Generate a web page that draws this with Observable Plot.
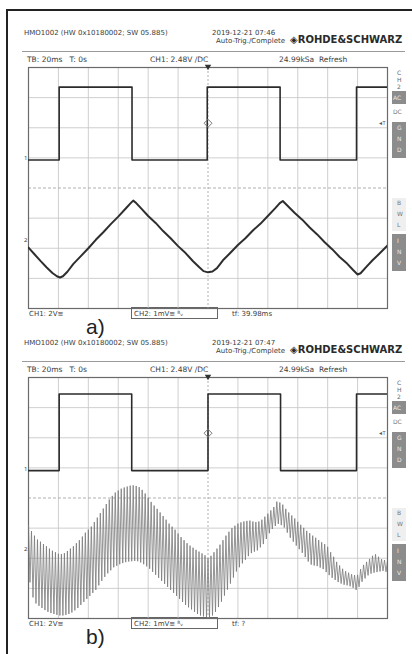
<!DOCTYPE html>
<html><head><meta charset="utf-8">
<script src="https://cdn.jsdelivr.net/npm/d3@7"></script>
<script src="https://cdn.jsdelivr.net/npm/@observablehq/plot@0.6"></script>
<style>
html,body{margin:0;padding:0;background:#fff;}
#wrap{position:relative;width:412px;height:654px;overflow:hidden;font-family:"DejaVu Sans",sans-serif;color:#3c3c3c;}
.t{position:absolute;white-space:pre;transform:translateY(-50%);line-height:1;}
.box{position:absolute;box-sizing:border-box;}
svg.p{position:absolute;left:0;}
</style></head><body><div id="wrap"></div>
<script>
// ---------- data ----------
const gridTimes = [-100, -80, -60, -40, -20, 20, 40, 60, 80, 100]; // ms (20 ms/div)
const gridDivs = [-3, -2, -1, 1, 2, 3];                              // divisions
const triggerLevel = 2.15;

// Panel a) CH1 square wave (step vertices, ms / div)
const aSqT = [-120, -99.5, -50.8, -0.5, 48.2, 99.3, 120];
const aSqV = [0.93, 3.35, 0.93, 3.35, 0.93, 3.35, 3.35];
// Panel a) CH2 triangle
const aTriT = [-120,-116,-112,-108,-104,-101,-99,-97,-94,-90,-85,-80,-75,-70,-65,-60,-55,-52,-50,-48,-45,-40,-35,-30,-25,-20,-15,-10,-6,-3,0,3,6,10,15,20,25,30,35,40,45,48,50,53,58,63,68,73,78,83,88,93,97,100,102,106,110,115,120];
const aTriV = [-1.98,-2.2,-2.42,-2.63,-2.82,-2.93,-2.97,-2.93,-2.78,-2.52,-2.26,-2.0,-1.72,-1.47,-1.2,-0.95,-0.68,-0.52,-0.42,-0.5,-0.66,-0.93,-1.16,-1.43,-1.67,-1.93,-2.16,-2.43,-2.62,-2.76,-2.8,-2.77,-2.66,-2.4,-2.15,-1.89,-1.67,-1.41,-1.19,-0.93,-0.67,-0.5,-0.43,-0.58,-0.83,-1.05,-1.31,-1.54,-1.8,-2.03,-2.29,-2.51,-2.72,-2.87,-2.83,-2.61,-2.4,-2.16,-1.91];

// Panel b) CH1 square wave
const bSqT = [-120, -99.5, -51, 0, 48.5, 99.3, 120];
const bSqV = [0.91, 3.45, 0.91, 3.45, 0.91, 3.45, 3.45];
// Panel b) CH2 ripple: upper / lower peaks read every 2 ms from -120 ms
const rippleStep = 2;
const bHi = [-0.90,-1.10,-1.25,-1.38,-1.45,-1.53,-1.60,-1.68,-1.75,-1.80,
 -1.85,-1.86,-1.83,-1.76,-1.68,-1.60,-1.50,-1.40,-1.28,-1.15,
 -1.05,-0.95,-0.80,-0.65,-0.50,-0.35,-0.20,-0.05,0.07,0.18,
 0.25,0.31,0.35,0.38,0.41,0.42,0.40,0.36,0.27,0.15,
 0.01,-0.13,-0.25,-0.36,-0.48,-0.60,-0.72,-0.85,-0.95,-1.05,
 -1.18,-1.30,-1.40,-1.50,-1.58,-1.65,-1.72,-1.78,-1.84,-1.90,
 -2.00,-1.92,-1.80,-1.68,-1.55,-1.40,-1.25,-1.12,-1.00,-0.92,
 -0.85,-0.81,-0.78,-0.76,-0.75,-0.78,-0.80,-0.78,-0.72,-0.62,
 -0.52,-0.41,-0.30,-0.12,-0.15,-0.22,-0.36,-0.48,-0.58,-0.68,
 -0.79,-0.89,-0.99,-1.09,-1.17,-1.25,-1.32,-1.40,-1.47,-1.53,
 -1.62,-1.80,-1.95,-2.12,-2.24,-2.35,-2.43,-2.48,-2.53,-2.56,
 -2.55,-2.36,-2.22,-2.12,-2.02,-1.92,-1.87,-1.95,-2.03,-2.06,
 -2.08];
const bLo = [-2.80,-3.30,-3.50,-3.58,-3.65,-3.72,-3.78,-3.82,-3.85,-3.88,
 -3.90,-3.90,-3.88,-3.85,-3.80,-3.73,-3.65,-3.55,-3.45,-3.35,
 -3.25,-3.15,-3.05,-2.90,-2.75,-2.62,-2.50,-2.40,-2.30,-2.25,
 -2.20,-2.16,-2.13,-2.11,-2.10,-2.09,-2.10,-2.14,-2.20,-2.27,
 -2.35,-2.45,-2.55,-2.65,-2.75,-2.85,-2.95,-3.05,-3.15,-3.25,
 -3.35,-3.45,-3.55,-3.63,-3.70,-3.78,-3.85,-3.90,-3.93,-3.96,
 -3.97,-3.90,-3.78,-3.62,-3.44,-3.24,-3.04,-2.84,-2.64,-2.44,
 -2.30,-2.17,-2.05,-1.93,-1.83,-1.78,-1.74,-1.64,-1.53,-1.36,
 -1.17,-1.03,-0.93,-0.86,-0.90,-0.98,-1.15,-1.32,-1.45,-1.58,
 -1.70,-1.82,-1.96,-2.11,-2.21,-2.24,-2.26,-2.31,-2.36,-2.46,
 -2.56,-2.65,-2.72,-2.79,-2.84,-2.88,-2.90,-2.93,-2.98,-3.05,
 -2.95,-2.78,-2.67,-2.57,-2.51,-2.48,-2.46,-2.44,-2.42,-2.45,
 -2.47];

const groundA = [{label: "1", v: 0.93}, {label: "2", v: -1.81}];
const groundB = [{label: "1", v: 0.91}, {label: "2", v: -1.75}];

const panels = [
  {off: 0, date: "2019-12-21 07:46", tf: "tf: 39.98ms", tag: "a)", sqT: aSqT, sqV: aSqV, ground: groundA, kind: "tri"},
  {off: 310, date: "2019-12-21 07:47", tf: "tf: ?", tag: "b)", sqT: bSqT, sqV: bSqV, ground: groundB, kind: "ripple"}
];

// ---------- drawing ----------
const wrap = document.getElementById("wrap");
function el(cls, style, text) {
  const d = document.createElement("div");
  d.className = cls;
  Object.assign(d.style, style);
  if (text != null) d.textContent = text;
  wrap.appendChild(d);
  return d;
}
function txt(text, x, y, size, extra = {}) {
  return el("t", Object.assign({left: x + "px", top: y + "px", fontSize: size + "px"}, extra), text);
}
function stack(letters, cx, y0, gap, color) {
  letters.forEach((c, i) => txt(c, cx - 2, y0 + i * gap, 6, {color}));
}

// outer frame (top and left border of the figure)
el("box", {left: "6px", top: "9px", width: "410px", height: "650px", borderTop: "2px solid #222", borderLeft: "2px solid #222"});

function scope(p) {
  const sq = p.sqT.map((t, i) => ({t, v: p.sqV[i]}));
  let ch2;
  if (p.kind === "tri") {
    const tri = aTriT.map((t, i) => ({t, v: aTriV[i]}));
    ch2 = Plot.line(tri, {x: "t", y: "v", stroke: "#2e2e2e", strokeWidth: 2, clip: true});
  } else {
    const zig = [];
    bHi.forEach((h, i) => {
      const t = -120 + i * rippleStep;
      zig.push({t, v: h});
      zig.push({t: t + rippleStep / 2, v: bLo[i]});
    });
    ch2 = Plot.line(zig, {x: "t", y: "v", stroke: "#7a7a7a", strokeWidth: 0.8, clip: true});
  }
  const svg = Plot.plot({
    width: 412, height: 262,
    marginLeft: 28, marginRight: 25, marginTop: 12, marginBottom: 9,
    x: {domain: [-120, 120], axis: null},
    y: {domain: [-4, 4], axis: null},
    style: {background: "transparent", overflow: "visible"},
    marks: [
      Plot.ruleX(gridTimes, {stroke: "#cacaca", strokeWidth: 0.9}),
      Plot.ruleY(gridDivs, {stroke: "#cacaca", strokeWidth: 0.9}),
      Plot.ruleX([0], {stroke: "#a8a8a8", strokeWidth: 0.9, strokeDasharray: "2,2"}),
      Plot.ruleY([0], {stroke: "#a8a8a8", strokeWidth: 0.9, strokeDasharray: "3,2"}),
      Plot.frame({stroke: "#6a6a6a", strokeWidth: 1.2}),
      ch2,
      Plot.line(sq, {x: "t", y: "v", curve: "step-after", stroke: "#2b2b2b", strokeWidth: 1.6, clip: true}),
      Plot.dot([triggerLevel], {x: () => 0, y: d => d, symbol: "diamond2", r: 3.6, stroke: "#777", strokeWidth: 1}),
      Plot.dot([0], {x: d => d, y: () => 4, symbol: "triangle", rotate: 180, r: 2.4, fill: "#333", dy: -1}),
      Plot.text([triggerLevel], {x: () => 120, y: d => d, text: () => "◂T", fontSize: 5.5, fill: "#555", textAnchor: "end", dx: -2}),
      Plot.text(p.ground, {x: () => -120, y: "v", text: "label", fontSize: 6, fill: "#444", textAnchor: "end", dx: -1, dy: -2})
    ]
  });
  svg.classList.add("p");
  svg.style.top = (55 + p.off) + "px";
  wrap.appendChild(svg);
}

panels.forEach(p => {
  const o = p.off;
  txt("HMO1002 (HW 0x10180002; SW 05.885)", 24, 33 + o, 7);
  txt(p.date, 212, 33 + o, 7);
  txt("Auto-Trig./Complete", 216, 41 + o, 7);
  txt("◈ROHDE&SCHWARZ", 290, 40 + o, 10, {fontWeight: "bold", color: "#2a2a2a"});
  el("box", {left: "22px", top: (51 + o) + "px", width: "383px", height: "1px", background: "#9a9a9a"});
  txt("TB: 20ms   T: 0s", 27, 60 + o, 7.5);
  txt("CH1: 2.48V /DC", 150, 60 + o, 7.5);
  txt("24.99kSa  Refresh", 279, 60 + o, 7.5);
  // right side soft-key column
  stack(["C", "H", "2"], 399, 73 + o, 7, "#666");
  el("box", {left: "392px", top: (91 + o) + "px", width: "14px", height: "13px", background: "#8c8c8c"});
  txt("AC", 393, 97.5 + o, 6, {color: "#e8e8e8"});
  txt("DC", 393, 112 + o, 6, {color: "#777"});
  el("box", {left: "392px", top: (122 + o) + "px", width: "14px", height: "36px", background: "#8c8c8c"});
  stack(["G", "N", "D"], 399, 128 + o, 11, "#e8e8e8");
  el("box", {left: "392px", top: (198 + o) + "px", width: "14px", height: "33px", background: "#efefef"});
  stack(["B", "W", "L"], 399, 203 + o, 11, "#777");
  el("box", {left: "392px", top: (234 + o) + "px", width: "14px", height: "37px", background: "#8c8c8c"});
  stack(["I", "N", "V"], 399, 241 + o, 11, "#e8e8e8");
  // bottom status line
  txt("CH1: 2V≅", 29, 314 + o, 7);
  el("box", {left: "131px", top: (307 + o) + "px", width: "87px", height: "12px", border: "1px solid #666"});
  txt("CH2: 1mV≅ ᴮᵥ", 134, 313.5 + o, 7);
  txt(p.tf, 232, 314 + o, 7);
  txt(p.tag, 86, 326 + o, 21, {fontFamily: "'Liberation Sans', Arial, sans-serif", color: "#222"});
  scope(p);
});
</script></body></html>
